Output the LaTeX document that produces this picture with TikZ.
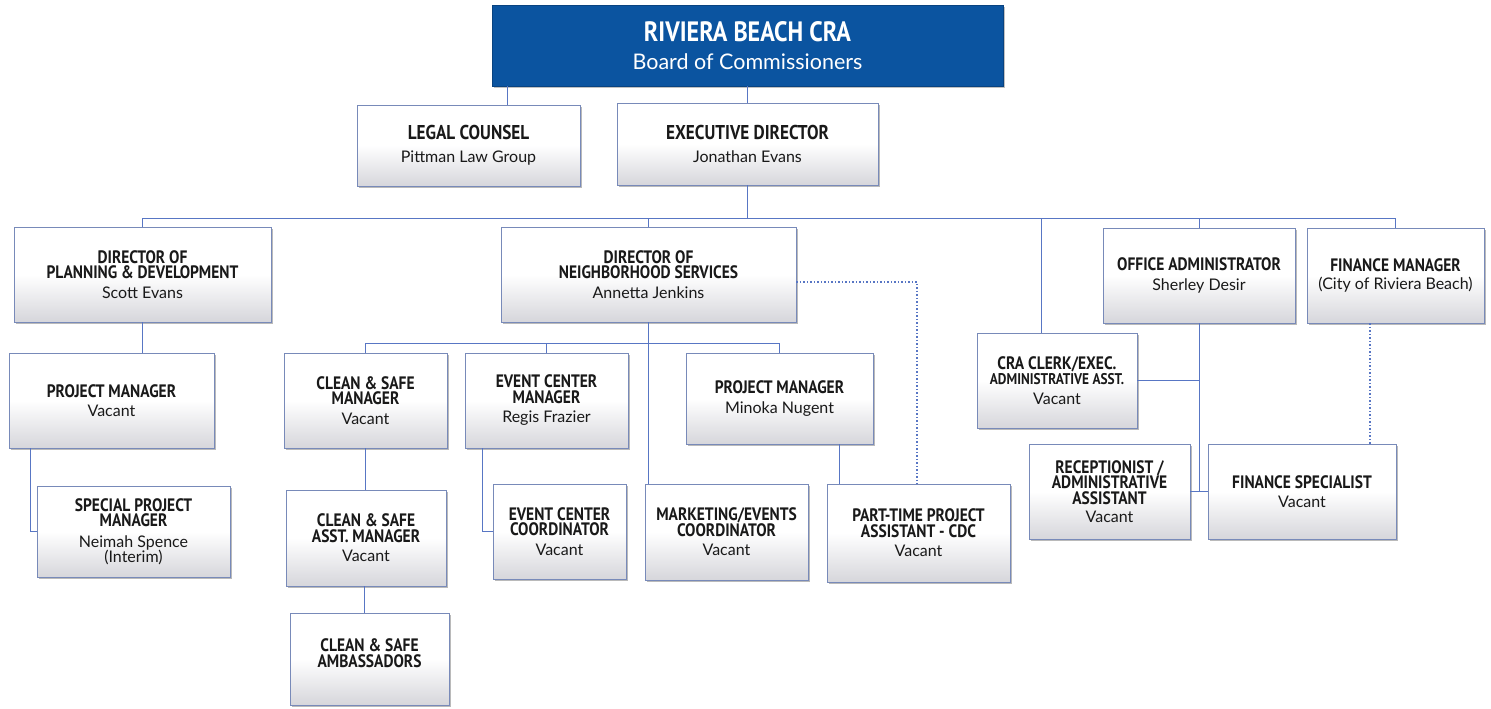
\documentclass[tikz,border=0pt]{standalone}
\usepackage{fontspec}
\setmainfont{Lato}
\newfontfamily\ttlfont{PT Sans}[FakeStretch=0.86]
\newfontfamily\nmfont{Lato}
\usetikzlibrary{shadows,calc}
\definecolor{conn}{RGB}{88,118,196}
\definecolor{boxedge}{RGB}{120,138,185}
\definecolor{boxbot}{RGB}{214,214,219}
\definecolor{hdrblue}{RGB}{11,84,160}
\newcommand\nm[1]{{\nmfont\mdseries\fontsize{16}{18}\selectfont #1}}
\newcommand\sml[1]{{\fontsize{15.5}{15.5}\selectfont #1}}
\tikzset{
  box/.style={rectangle, draw=boxedge, line width=0.9pt,
    top color=white, bottom color=boxbot, middle color=white,
    drop shadow={shadow xshift=1.5pt, shadow yshift=-2pt, opacity=0.45, fill=black!60},
    align=center, inner sep=0pt, text=black!90,
    font=\ttlfont\bfseries\fontsize{18}{15.5}\selectfont},
  hdr/.style={rectangle, fill=hdrblue, draw=hdrblue!80!black, line width=0.6pt,
    drop shadow={shadow xshift=1.5pt, shadow yshift=-2pt, opacity=0.4, fill=black!60},
    align=center, inner sep=0pt, text=white},
  link/.style={draw=conn, line width=1pt},
  dotlink/.style={draw=conn, line width=1.6pt, dash pattern=on 1.5pt off 2pt}
}
\newcommand\bx[7][]{\node[box,#1,minimum width={(#5-#3)*1pt},minimum height={(#6-#4)*1pt}] (#2) at ({(#3+#5)/2},{(#4+#6)/2}) {#7};}
\begin{document}
\begin{tikzpicture}[x=1pt,y=-1pt]
\useasboundingbox[fill=white] (0,0) rectangle (1491,709);
% header
\node[hdr, minimum width=511pt, minimum height=81pt] (board) at (747.5,45.5)
  {{\ttlfont\bfseries\fontsize{28}{28}\selectfont RIVIERA BEACH CRA}\\[10pt]{\nmfont\fontsize{21.5}{22}\selectfont Board of Commissioners}};
% boxes
\bx[font=\ttlfont\bfseries\fontsize{20}{17}\selectfont]{legal}{357}{105}{580}{186}{LEGAL COUNSEL\\[6pt]\nm{Pittman Law Group}}
\bx[font=\ttlfont\bfseries\fontsize{20}{17}\selectfont]{exec}{617}{103}{878}{185}{EXECUTIVE DIRECTOR\\[6pt]\nm{Jonathan Evans}}
\bx{plan}{14}{227}{271}{322}{DIRECTOR OF\\PLANNING \& DEVELOPMENT\\[4pt]\nm{Scott Evans}}
\bx{neigh}{501}{227}{796}{322}{DIRECTOR OF\\NEIGHBORHOOD SERVICES\\[4pt]\nm{Annetta Jenkins}}
\bx{clerk}{977}{333}{1137}{428}{CRA CLERK/EXEC.\\\sml{ADMINISTRATIVE ASST.}\\[4pt]\nm{Vacant}}
\bx{oa}{1103}{228}{1295}{323}{OFFICE ADMINISTRATOR\\[4pt]\nm{Sherley Desir}}
\bx{fm}{1307}{228}{1484}{323}{FINANCE MANAGER\\[3pt]\nm{(City of Riviera Beach)}}
\bx{pml}{9}{353}{214}{448}{PROJECT MANAGER\\[4pt]\nm{Vacant}}
\bx{spm}{37}{486}{230}{577}{SPECIAL PROJECT\\MANAGER\\[5pt]\nm{Neimah Spence}\\\nm{(Interim)}}
\bx{csm}{284}{353}{447}{448}{CLEAN \& SAFE\\MANAGER\\[4pt]\nm{Vacant}}
\bx{evm}{465}{353}{628}{448}{EVENT CENTER\\MANAGER\\[4pt]\nm{Regis Frazier}}
\bx{pmn}{686}{353}{873}{444}{PROJECT MANAGER\\[4pt]\nm{Minoka Nugent}}
\bx{csa}{286}{490}{446}{586}{CLEAN \& SAFE\\ASST. MANAGER\\[4pt]\nm{Vacant}}
\bx{coord}{493}{484}{626}{579}{EVENT CENTER\\COORDINATOR\\[4pt]\nm{Vacant}}
\bx{mkt}{645}{484}{808}{580}{MARKETING/EVENTS\\COORDINATOR\\[4pt]\nm{Vacant}}
\bx{pt}{827}{484}{1010}{582}{PART-TIME PROJECT\\ASSISTANT - CDC\\[4pt]\nm{Vacant}}
\bx{amb}{290}{613}{449}{705}{CLEAN \& SAFE\\AMBASSADORS\\[-4pt]\mbox{}}
\bx{rec}{1029}{444}{1190}{539}{RECEPTIONIST /\\ADMINISTRATIVE\\ASSISTANT\\[3pt]\nm{Vacant}}
\bx{fs}{1208}{444}{1396}{539}{FINANCE SPECIALIST\\[4pt]\nm{Vacant}}
% connectors
\coordinate (bus) at (0,218);
\coordinate (nbus) at (0,343);
\draw[link] (board.south -| 507,0) -- (legal.north -| 507,0);
\draw[link] (board.south -| exec.north) -- (exec.north);
\draw[link] (exec.south) -- (exec.south |- bus);
\draw[link] (plan.north |- bus) -- (fm.north |- bus);
\draw[link] (plan.north) -- (plan.north |- bus);
\draw[link] (neigh.north) -- (neigh.north |- bus);
\draw[link] (clerk.north -| 1041,0) -- (1041,0 |- bus);
\draw[link] (oa.north) -- (oa.north |- bus);
\draw[link] (fm.north) -- (fm.north |- bus);
% planning branch
\draw[link] (plan.south) -- (plan.south |- pml.north);
\draw[link] (pml.south -| 30,0) |- (spm.west);
% neighborhood branch
\draw[link] (neigh.south) -- (neigh.south |- mkt.north);
\draw[link] (csm.north |- nbus) -- (pmn.north |- nbus);
\draw[link] (csm.north) -- (csm.north |- nbus);
\draw[link] (evm.north) -- (evm.north |- nbus);
\draw[link] (pmn.north) -- (pmn.north |- nbus);
\draw[link] (csm.south) -- (csm.south |- csa.north);
\draw[link] (csa.south -| 364,0) -- (amb.north -| 364,0);
\draw[link] (evm.south -| 482,0) |- (coord.west);
\draw[link] (pmn.south -| 839,0) -- (pt.north -| 839,0);
\draw[dotlink] ([yshift=-7.5pt]neigh.east) -| (pt.north -| 917,0);
% office branch
\draw[link] (oa.south) -- (oa.south |- rec.east);
\draw[link] (clerk.east) -- (clerk.east -| oa.south);
\draw[link] (rec.east) -- (fs.west);
\draw[dotlink] (fm.south -| 1370,0) -- (fs.north -| 1370,0);
\end{tikzpicture}
\end{document}
